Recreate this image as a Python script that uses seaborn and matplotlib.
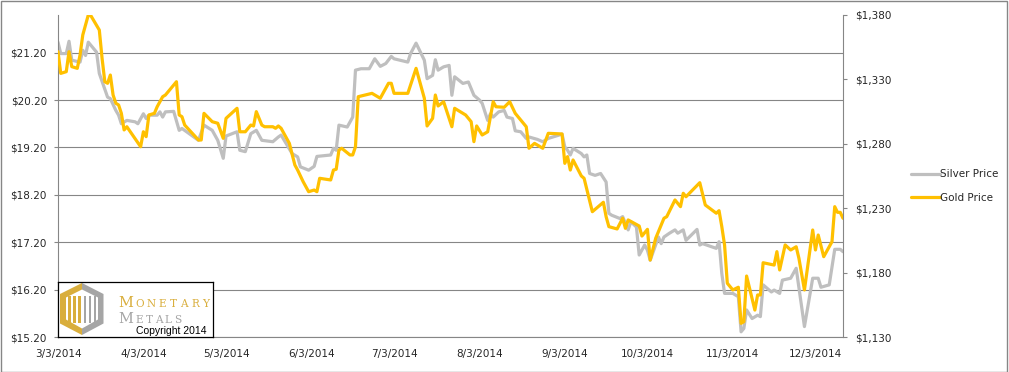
"""
Silver vs gold price, March - December 2014 (dual axis line chart).
"""
import pandas as pd
import matplotlib
matplotlib.use("Agg")
import matplotlib.pyplot as plt
import matplotlib.ticker as ticker
from matplotlib.patches import Polygon, Rectangle
import seaborn as sns

# days after 3/3/2014 and prices
silver_day = [0, 1, 3, 4, 5, 8, 9, 10, 11, 14, 15, 18, 19, 21, 22, 23, 25, 28, 29, 31,
              32, 33, 36, 37, 38, 39, 42, 44, 45, 51, 53, 56, 58, 60, 61, 65, 66, 68, 70, 72,
              74, 78, 80, 81, 85, 87, 88, 91, 93, 94, 99, 100, 101, 102, 105, 107, 108, 110, 113, 115,
              117, 119, 121, 122, 127, 128, 130, 133, 134, 136, 137, 138, 140, 142, 143, 144, 147, 149, 151, 153,
              154, 156, 157, 158, 160, 162, 163, 165, 166, 168, 170, 171, 174, 176, 178, 183, 184, 185, 186, 187,
              190, 191, 192, 193, 195, 197, 199, 200, 201, 204, 205, 207, 208, 210, 211, 213, 214, 215, 218, 219,
              220, 222, 224, 225, 227, 228, 232, 233, 234, 239, 240, 241, 242, 245, 247, 248, 249, 250, 252, 254,
              255, 256, 259, 260, 262, 263, 266, 268, 271, 274, 276, 277, 280, 282, 284, 285]
silver_price = [21.42, 21.18, 21.18, 21.44, 21.04, 21.00, 21.25, 21.14, 21.42, 21.21, 20.76, 20.26, 20.23, 19.98, 19.88, 19.70, 19.77, 19.74, 19.70, 19.91,
                19.81, 19.88, 19.88, 19.95, 19.84, 19.95, 19.96, 19.56, 19.60, 19.35, 19.67, 19.56, 19.35, 18.97, 19.44, 19.53, 19.14, 19.11, 19.49, 19.56,
                19.35, 19.32, 19.42, 19.46, 19.07, 19.00, 18.79, 18.72, 18.80, 19.01, 19.04, 19.18, 19.14, 19.67, 19.63, 19.84, 20.83, 20.86, 20.86, 21.07,
                20.91, 20.97, 21.12, 21.07, 21.00, 21.18, 21.40, 21.04, 20.65, 20.72, 21.05, 20.83, 20.90, 20.93, 20.30, 20.69, 20.55, 20.58, 20.30, 20.20,
                20.13, 19.77, 19.91, 19.84, 19.95, 19.98, 19.84, 19.81, 19.55, 19.53, 19.39, 19.42, 19.37, 19.32, 19.39, 19.48, 19.21, 19.14, 19.04, 19.18,
                19.07, 19.00, 19.04, 18.65, 18.61, 18.65, 18.47, 17.81, 17.77, 17.70, 17.74, 17.46, 17.63, 17.52, 16.93, 17.14, 17.03, 16.82, 17.31, 17.17,
                17.31, 17.39, 17.46, 17.39, 17.46, 17.24, 17.47, 17.14, 17.17, 17.07, 17.21, 16.54, 16.12, 16.12, 16.05, 15.31, 15.38, 15.77, 15.59, 15.66,
                15.63, 16.30, 16.15, 16.19, 16.12, 16.40, 16.44, 16.65, 15.42, 16.44, 16.44, 16.25, 16.30, 17.05, 17.05, 17.00]

gold_day = [0, 1, 3, 4, 5, 7, 8, 9, 11, 12, 15, 16, 17, 18, 19, 20, 21, 22, 23, 24,
            25, 30, 31, 32, 33, 35, 36, 38, 39, 43, 44, 45, 46, 51, 52, 53, 56, 58, 60, 61,
            65, 66, 68, 70, 71, 72, 74, 75, 78, 79, 80, 81, 84, 86, 87, 89, 91, 93, 94, 95,
            99, 100, 101, 102, 103, 106, 107, 108, 109, 114, 117, 120, 121, 122, 127, 130, 133, 134, 136, 137,
            138, 140, 143, 144, 148, 150, 151, 152, 154, 156, 158, 159, 162, 164, 166, 170, 171, 173, 176, 178,
            183, 184, 185, 186, 187, 190, 191, 194, 198, 199, 200, 203, 205, 206, 207, 211, 212, 214, 215, 217,
            220, 221, 224, 226, 227, 228, 233, 235, 239, 240, 241, 242, 243, 245, 247, 248, 249, 250, 253, 254,
            255, 256, 260, 261, 262, 264, 266, 268, 269, 271, 274, 275, 276, 278, 281, 282, 283, 284, 285]
gold_price = [1351.3, 1334.5, 1335.8, 1351.3, 1339.7, 1338.4, 1348.7, 1364.3, 1379.8, 1379.0, 1368.1, 1346.2, 1328.0, 1326.8, 1333.2, 1317.7, 1311.3, 1310.0, 1303.5, 1290.6,
              1293.1, 1277.6, 1289.2, 1285.4, 1302.2, 1303.5, 1308.6, 1316.4, 1317.7, 1328.0, 1302.2, 1300.9, 1294.4, 1282.8, 1282.8, 1303.5, 1297.0, 1295.8, 1284.1, 1299.6,
              1307.4, 1289.2, 1289.2, 1294.4, 1293.7, 1304.8, 1294.4, 1293.1, 1293.1, 1291.9, 1293.7, 1291.9, 1280.2, 1263.4, 1259.5, 1250.5, 1242.7, 1244.0, 1242.7, 1253.1,
              1251.8, 1259.5, 1260.1, 1275.0, 1276.4, 1271.2, 1271.2, 1277.6, 1316.4, 1319.0, 1315.2, 1326.8, 1326.8, 1319.0, 1319.0, 1338.4, 1315.2, 1293.7, 1299.6, 1317.7,
              1309.2, 1312.5, 1293.1, 1307.4, 1302.2, 1297.0, 1281.5, 1293.7, 1286.7, 1289.2, 1312.5, 1308.6, 1308.2, 1312.5, 1303.5, 1293.1, 1276.4, 1280.2, 1276.4, 1288.0,
              1287.5, 1264.7, 1269.9, 1259.5, 1267.3, 1254.9, 1253.1, 1227.2, 1234.5, 1223.3, 1215.6, 1213.8, 1222.1, 1214.3, 1220.8, 1216.1, 1208.3, 1213.5, 1189.7, 1206.6,
              1222.1, 1223.3, 1236.3, 1231.1, 1241.5, 1238.8, 1249.7, 1232.4, 1226.0, 1228.0, 1215.6, 1201.4, 1171.7, 1166.5, 1168.6, 1140.6, 1141.9, 1177.3, 1150.9, 1162.6,
              1162.6, 1187.6, 1185.8, 1196.2, 1182.0, 1201.4, 1197.5, 1200.0, 1191.0, 1166.5, 1213.0, 1197.5, 1209.1, 1192.3, 1203.9, 1231.1, 1226.7, 1226.7, 1222.1]

start_date = "2014-03-03"
x_ticks = ["2014-03-03", "2014-04-03", "2014-05-03", "2014-06-03", "2014-07-03",
           "2014-08-03", "2014-09-03", "2014-10-03", "2014-11-03", "2014-12-03"]
x_tick_labels = ["3/3/2014", "4/3/2014", "5/3/2014", "6/3/2014", "7/3/2014",
                 "8/3/2014", "9/3/2014", "10/3/2014", "11/3/2014", "12/3/2014"]
silver_ticks = [15.2, 16.2, 17.2, 18.2, 19.2, 20.2, 21.2]
gold_ticks = [1130, 1180, 1230, 1280, 1330, 1380]

SILVER = "#BFBFBF"
GOLD = "#FFC000"
AXIS_GREY = "#868686"

sns.set_style("white")
plt.rcParams["font.family"] = ["DejaVu Sans"]

t0 = pd.Timestamp(start_date)
silver_df = pd.DataFrame({"Date": t0 + pd.to_timedelta(silver_day, unit="D"), "Silver Price": silver_price})
gold_df = pd.DataFrame({"Date": t0 + pd.to_timedelta(gold_day, unit="D"), "Gold Price": gold_price})

fig = plt.figure(figsize=(10.09, 3.72), dpi=100)
ax = fig.add_axes([58 / 1009, 35 / 372, 785 / 1009, 322.3 / 372])
ax2 = ax.twinx()

sns.lineplot(data=silver_df, x="Date", y="Silver Price", ax=ax, color=SILVER, linewidth=2.3, label="Silver Price", legend=False)
sns.lineplot(data=gold_df, x="Date", y="Gold Price", ax=ax2, color=GOLD, linewidth=2.3, label="Gold Price", legend=False)

# axes ranges
ax.set_xlim(t0, t0 + pd.Timedelta(days=285))
ax.set_ylim(15.2, 22.0)
ax2.set_ylim(1130, 1380)

# ticks and labels
ax.set_xticks(pd.to_datetime(x_ticks))
ax.set_xticklabels(x_tick_labels)
ax.set_yticks(silver_ticks)
ax.yaxis.set_major_formatter(ticker.FuncFormatter(lambda v, _: f"${v:.2f}"))
ax2.set_yticks(gold_ticks)
ax2.yaxis.set_major_formatter(ticker.FuncFormatter(lambda v, _: f"${v:,.0f}"))
ax.set_xlabel("")
ax.set_ylabel("")
ax2.set_ylabel("")

ax.tick_params(axis="x", direction="out", length=3, width=0.8, color=AXIS_GREY, pad=6, labelsize=7.5)
ax.tick_params(axis="y", direction="out", length=3, width=0.8, color=AXIS_GREY, pad=5, labelsize=7.5)
ax2.tick_params(axis="y", direction="out", length=3, width=0.8, color=AXIS_GREY, pad=6, labelsize=7.5)

ax.grid(True, axis="y", color=AXIS_GREY, linewidth=0.8)
ax.grid(False, axis="x")
ax.set_axisbelow(True)

for a in (ax, ax2):
    a.spines["top"].set_visible(False)
    for s in ("left", "right", "bottom"):
        a.spines[s].set_color(AXIS_GREY)
        a.spines[s].set_linewidth(0.8)
ax.spines["right"].set_visible(False)
ax2.spines["left"].set_visible(False)
ax2.spines["bottom"].set_visible(False)

# legend to the right of the plot
handles = ax.get_lines()[:1] + ax2.get_lines()[:1]
fig.legend(handles, ["Silver Price", "Gold Price"], loc="center left",
           bbox_to_anchor=(906 / 1009, 0.5), frameon=False, fontsize=7.5,
           handlelength=2.8, handletextpad=0.0, labelspacing=1.3, borderpad=0)

# logo box in lower left corner
logo = fig.add_axes([58 / 1009, 35 / 372, 155 / 1009, 55.5 / 372])
logo.set_xlim(0, 155)
logo.set_ylim(0, 55.5)
logo.set_xticks([])
logo.set_yticks([])
logo.set_facecolor("white")
for s in logo.spines.values():
    s.set_color("black")
    s.set_linewidth(0.9)

LOGO_GOLD = "#D9AE3C"
LOGO_GREY = "#A5A5A5"
logo.add_patch(Polygon([(24, 54), (2, 43), (2, 13.5), (24, 2)], closed=True, color=LOGO_GOLD, lw=0))
logo.add_patch(Polygon([(24, 54), (45.5, 43), (45.5, 13.5), (24, 2)], closed=True, color=LOGO_GREY, lw=0))
logo.add_patch(Polygon([(24, 47.5), (8, 39.5), (8, 17.5), (24, 8.5)], closed=True, color="white", lw=0))
logo.add_patch(Polygon([(24, 47.5), (40, 39.5), (40, 17.5), (24, 8.5)], closed=True, color="white", lw=0))
for bx, col in [(10, LOGO_GOLD), (15, LOGO_GOLD), (20, LOGO_GOLD),
                (25.5, LOGO_GREY), (30.5, LOGO_GREY), (35.5, LOGO_GREY)]:
    logo.add_patch(Rectangle((bx, 14.5), 2.6, 27, color=col, lw=0))

serif = ["DejaVu Serif"]
logo.text(60, 29.7, "M", fontsize=10.5, color=LOGO_GOLD, family=serif, va="baseline")
for i, ch in enumerate("ONETARY"):
    logo.text(82 + i * 11, 29.7, ch, fontsize=7.6, color=LOGO_GOLD, family=serif,
              ha="center", va="baseline")
logo.text(60, 13.7, "M", fontsize=10.5, color=LOGO_GREY, family=serif, va="baseline")
for i, ch in enumerate("ETALS"):
    logo.text(81.5 + i * 9.6, 13.7, ch, fontsize=7.6, color=LOGO_GREY, family=serif,
              ha="center", va="baseline")
logo.text(113, 3.5, "Copyright 2014", fontsize=7.5, color="black",
          family=["Liberation Sans", "DejaVu Sans"], ha="center", va="baseline")

# thin frame around the whole picture
fig.patches.append(Rectangle((0.0005, 0.001), 0.998, 0.997, transform=fig.transFigure,
                             fill=False, edgecolor=AXIS_GREY, linewidth=1))

fig.savefig("out.png", dpi=100)
plt.close(fig)
